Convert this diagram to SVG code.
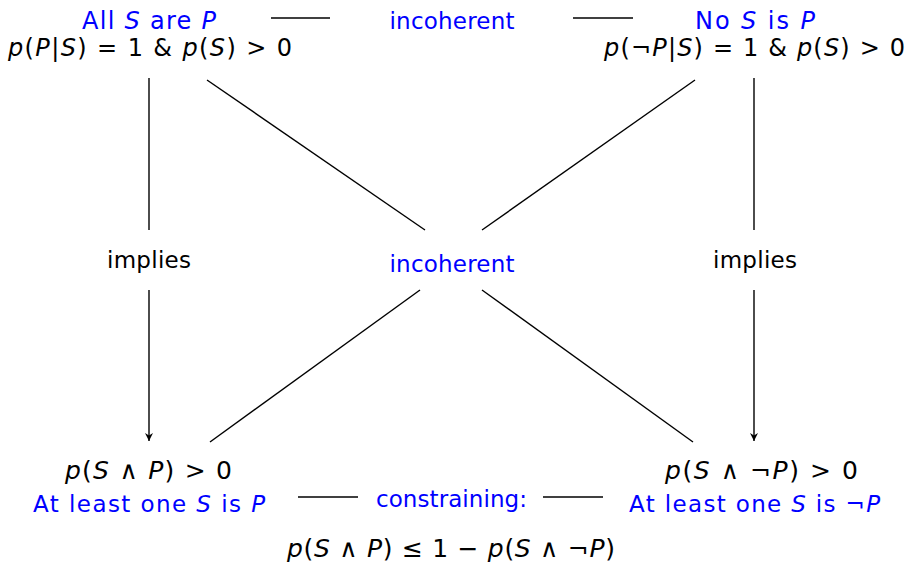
<svg xmlns="http://www.w3.org/2000/svg" width="909" height="567" viewBox="0 0 909 567">
<style>
text{font-family:"DejaVu Sans","Liberation Sans",sans-serif;font-size:23px;text-anchor:middle}
.m{font-size:24px}
.w{font-size:25px}
.s{font-size:24px}
.b{fill:#0000ff}
.k{fill:#000}
.i{font-style:italic}
.c line{stroke:#000;stroke-width:1.4}
</style>
<defs>
<marker id="ah" viewBox="0 0 10 10" refX="10" refY="5" markerWidth="8" markerHeight="8" markerUnits="userSpaceOnUse" orient="auto">
<path d="M0,0 L10,5 L0,10 L3,5 Z" fill="#000"/>
</marker>
</defs>
<rect width="909" height="567" fill="#fff"/>
<g class="c" id="connectors">
<line x1="271" y1="18" x2="330" y2="18"/>
<line x1="573" y1="18" x2="633" y2="18"/>
<line x1="149" y1="78" x2="149" y2="230"/>
<line x1="149" y1="290" x2="149" y2="441" marker-end="url(#ah)"/>
<line x1="754" y1="78" x2="754" y2="230"/>
<line x1="754" y1="290" x2="754" y2="441" marker-end="url(#ah)"/>
<line x1="207" y1="80" x2="425" y2="230"/>
<line x1="695" y1="80" x2="482" y2="230"/>
<line x1="420" y1="290" x2="210" y2="442"/>
<line x1="482" y1="290" x2="693" y2="442"/>
<line x1="298" y1="497" x2="358" y2="497"/>
<line x1="543" y1="497" x2="603" y2="497"/>
</g>
<g id="allSP">
<text class="b s" x="149" y="29" textLength="134">All <tspan class="i">S</tspan> are <tspan class="i">P</tspan></text>
<text class="k m" x="150" y="56" textLength="284"><tspan class="i">p</tspan>(<tspan class="i">P</tspan>|<tspan class="i">S</tspan>) = 1 &amp; <tspan class="i">p</tspan>(<tspan class="i">S</tspan>) &gt; 0</text>
</g>
<g id="incoherentTop">
<text class="b" x="452" y="29" textLength="125">incoherent</text>
</g>
<g id="noSP">
<text class="b s" x="755" y="29" textLength="120">No <tspan class="i">S</tspan> is <tspan class="i">P</tspan></text>
<text class="k m" x="754.5" y="56" textLength="301"><tspan class="i">p</tspan>(¬<tspan class="i">P</tspan>|<tspan class="i">S</tspan>) = 1 &amp; <tspan class="i">p</tspan>(<tspan class="i">S</tspan>) &gt; 0</text>
</g>
<g id="impliesLeft">
<text class="k" x="149" y="268" textLength="84">implies</text>
</g>
<g id="impliesRight">
<text class="k" x="755" y="268" textLength="84">implies</text>
</g>
<g id="incoherentMid">
<text class="b" x="452" y="272" textLength="125">incoherent</text>
</g>
<g id="someSP">
<text class="k w" x="148.5" y="479" textLength="167"><tspan class="i">p</tspan>(<tspan class="i">S</tspan> ∧ <tspan class="i">P</tspan>) &gt; 0</text>
<text class="b" x="149" y="512" textLength="232">At least one <tspan class="i">S</tspan> is <tspan class="i">P</tspan></text>
</g>
<g id="constraining">
<text class="b" x="451.5" y="507" textLength="151">constraining:</text>
<text class="k w" x="451" y="557" textLength="328"><tspan class="i">p</tspan>(<tspan class="i">S</tspan> ∧ <tspan class="i">P</tspan>) ≤ 1 − <tspan class="i">p</tspan>(<tspan class="i">S</tspan> ∧ ¬<tspan class="i">P</tspan>)</text>
</g>
<g id="someSnotP">
<text class="k w" x="761.5" y="479" textLength="193"><tspan class="i">p</tspan>(<tspan class="i">S</tspan> ∧ ¬<tspan class="i">P</tspan>) &gt; 0</text>
<text class="b" x="754.5" y="512" textLength="251">At least one <tspan class="i">S</tspan> is ¬<tspan class="i">P</tspan></text>
</g>
</svg>
